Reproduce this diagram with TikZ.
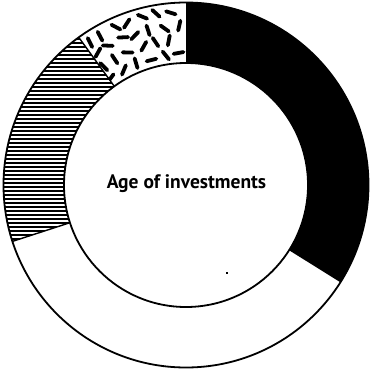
\documentclass[tikz,border=0pt]{standalone}
\usepackage{fontspec}
\setsansfont{PT Sans}
\usetikzlibrary{positioning}

\begin{document}
\begin{tikzpicture}[
        rim/.style={line width=1.8pt},
        cut/.style={line width=1.4pt},
        hatch/.style={line width=1.3pt},
        bean/.style={line width=3.8pt, line cap=round},
        title/.style={font=\sffamily\bfseries\fontsize{19.5}{21}\selectfont}
]
        \useasboundingbox (-186pt,-185pt) rectangle (188pt,185pt);
        \def\Ro{182.5pt}
        \def\Ri{122pt}
        % black part
        \fill[black] (90:\Ro) arc[start angle=90, end angle=-32, radius=\Ro]
                -- (-32:\Ri) arc[start angle=-32, end angle=90, radius=\Ri] -- cycle;
        % horizontal hatching
        \begin{scope}
                \clip (126:\Ro) arc[start angle=126, end angle=198, radius=\Ro]
                        -- (198:\Ri) arc[start angle=198, end angle=126, radius=\Ri] -- cycle;
                \foreach \y in {-62,-58,...,150}
                        \draw[hatch] (-190pt,\y pt) -- (0pt,\y pt);
        \end{scope}
        % scattered dashes
        \begin{scope}
                \clip (90:\Ro) arc[start angle=90, end angle=126, radius=\Ro]
                        -- (126:\Ri) arc[start angle=126, end angle=90, radius=\Ri] -- cycle;
                \pgfmathsetseed{5}
                \foreach \r/\s/\o in {131/6.3/0.2, 145/5.8/0.7, 159/5.3/0.1, 173/4.9/0.6}
                        \foreach \k in {0,...,6} {
                                \pgfmathsetmacro\t{92+(\k+\o)*\s+rnd*1.6-0.8}
                                \pgfmathsetmacro\rr{\r+rnd*3-1.5}
                                \pgfmathsetmacro\rot{rnd*180}
                                \draw[bean] (\t:\rr pt) ++(\rot:5pt) -- ++({\rot+180}:10pt);
                        }
        \end{scope}
        % outlines
        \draw[rim] (0,0) circle[radius=\Ro];
        \draw[rim] (0,0) circle[radius=\Ri];
        \draw[cut] (126:\Ri) -- (126:\Ro);
        \draw[cut] (198:\Ri) -- (198:\Ro);
        \draw[cut] (-32:\Ri) -- (-32:\Ro);
        \fill (40pt,-87pt) rectangle ++(2.2pt,-1.6pt);
        \node[title] (age) at (0.5pt,1pt) {Age of investments};
\end{tikzpicture}
\end{document}
